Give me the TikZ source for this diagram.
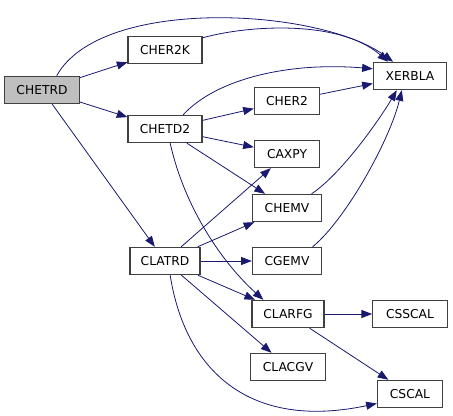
\documentclass[tikz,border=0pt]{standalone}
\usepackage{fontspec}
\setsansfont{DejaVu Sans}
\usetikzlibrary{arrows.meta}
\definecolor{edgeblue}{RGB}{25,25,112}
\definecolor{boxline}{RGB}{64,64,64}
\tikzset {>={Triangle[length=8pt,width=6pt]}}
\tikzset{fn/.style={draw=boxline,line width=0.8pt,fill=white,inner sep=0pt,minimum height=20.5pt,font=\sffamily\fontsize{9.2}{10}\selectfont},
  call/.style={->,draw=edgeblue,line width=0.6pt}}

\begin{document}
\begin{tikzpicture}[x=0.75pt,y=0.75pt]
\useasboundingbox (0,0) rectangle (453,-416);
\node[fn,fill=black!25,minimum width=56pt] (chetrd) at (42,-90) {CHETRD};
\node[fn,minimum width=55.5pt] (cher2k) at (165,-50) {CHER2K};
\node[fn,minimum width=55.5pt] (chetd2) at (165,-129) {CHETD2};
\node[fn,minimum width=52.5pt] (clatrd) at (165,-261) {CLATRD};
\node[fn,minimum width=55pt] (xerbla) at (410,-76) {XERBLA};
\node[fn,minimum width=49pt] (cher2) at (287,-101) {CHER2};
\node[fn,minimum width=49pt] (caxpy) at (287,-154) {CAXPY};
\node[fn,minimum width=52pt] (chemv) at (287,-208) {CHEMV};
\node[fn,minimum width=52pt] (cgemv) at (287,-261) {CGEMV};
\node[fn,minimum width=54pt] (clarfg) at (288,-314) {CLARFG};
\node[fn,minimum width=56pt] (csscal) at (410,-314) {CSSCAL};
\node[fn,minimum width=56pt] (clacgv) at (288,-367) {CLACGV};
\node[fn,minimum width=49pt] (cscal) at (410,-394) {CSCAL};
% calls from CHETRD
\draw[call] (chetrd) -- (cher2k);
\draw[call] (chetrd) -- (chetd2);
\draw[call] (chetrd) -- (clatrd);
\draw[call] (chetrd.44) .. controls +(44,80) and +(-73,54) .. (xerbla.140);
\draw[call] (cher2k.18) .. controls +(47,13) and +(-48,42) .. (xerbla.147);
% calls from CHETD2
\draw[call] (chetd2.38) .. controls +(33,36) and +(-84,7) .. (xerbla.169);
\draw[call] (chetd2) -- (cher2);
\draw[call] (chetd2) -- (caxpy);
\draw[call] (chetd2) -- (chemv);
\draw[call] (chetd2.290) .. controls +(15,-67) and +(-39,35) .. (clarfg.150);
\draw[call] (cher2) -- (xerbla);
\draw[call] (chemv.30) .. controls +(30,20) and +(-17,-29) .. (xerbla.227);
\draw[call] (cgemv.29) .. controls +(33,27) and +(-12,-50) .. (xerbla.240);
% calls from CLATRD
\draw[call] (clatrd) -- (caxpy);
\draw[call] (clatrd) -- (chemv);
\draw[call] (clatrd) -- (cgemv);
\draw[call] (clatrd) -- (clarfg);
\draw[call] (clatrd) -- (clacgv);
\draw[call] (clatrd.290) .. controls +(15,-95) and +(-128,-27) .. (cscal.196);
\draw[call] (clarfg) -- (csscal);
\draw[call] (clarfg) -- (cscal);
\end{tikzpicture}
\end{document}
